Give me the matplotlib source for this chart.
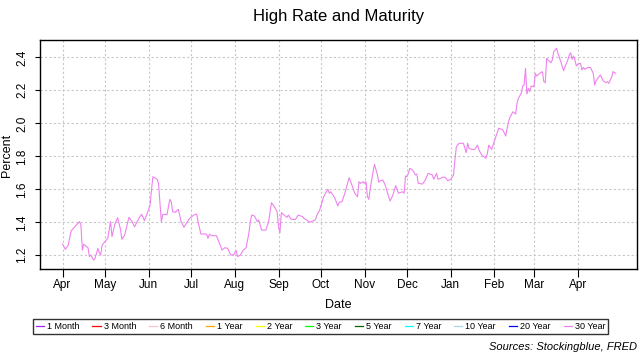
import numpy as np
import pandas as pd
import matplotlib
matplotlib.use("Agg")
import matplotlib.pyplot as plt
import matplotlib.dates as mdates
from matplotlib.lines import Line2D

plt.rcParams["font.family"] = ["Liberation Sans", "DejaVu Sans"]

start_date = "2017-04-01"
# days after start_date
days = [0, 2, 4, 6, 8, 12, 13, 14, 15, 18, 19, 20, 22, 23, 25, 26, 27, 28, 30, 32,
        34, 35, 37, 39, 41, 42, 44, 47, 49, 51, 54, 56, 58, 60, 62, 63, 64, 67, 68, 69,
        70, 71, 74, 76, 77, 78, 80, 82, 84, 86, 87, 90, 93, 95, 96, 98, 102, 103, 104, 106,
        109, 111, 113, 115, 117, 119, 121, 123, 124, 126, 128, 130, 132, 133, 134, 136, 138, 139, 141, 144,
        146, 148, 150, 152, 153, 154, 155, 159, 160, 162, 165, 167, 170, 171, 173, 175, 178, 179, 181, 182,
        185, 186, 188, 189, 190, 193, 195, 196, 198, 200, 203, 205, 207, 209, 210, 211, 213, 214, 215, 216,
        217, 218, 219, 220, 221, 223, 224, 225, 227, 229, 230, 232, 233, 234, 236, 238, 239, 241, 242, 243,
        244, 245, 246, 248, 250, 251, 252, 255, 257, 259, 262, 263, 265, 266, 268, 269, 271, 273, 275, 277,
        278, 279, 281, 284, 286, 287, 288, 290, 292, 294, 295, 297, 300, 301, 302, 303, 304, 305, 307, 309,
        311, 312, 314, 315, 316, 317, 319, 321, 322, 323, 325, 326, 327, 328, 329, 330, 331, 332, 334, 335,
        336, 338, 340, 341, 342, 343, 344, 346, 347, 348, 350, 351, 353, 355, 356, 358, 359, 360, 361, 362,
        363, 364, 365, 367, 368, 369, 370, 372, 374, 376, 377, 378, 381, 383, 385, 386, 387, 389, 390, 392]
rate_30y = [1.268, 1.236, 1.262, 1.347, 1.367, 1.404, 1.384, 1.232, 1.267, 1.246, 1.192, 1.202, 1.171, 1.182, 1.242, 1.216, 1.202, 1.262, 1.283, 1.303,
            1.404, 1.313, 1.388, 1.428, 1.358, 1.297, 1.323, 1.430, 1.408, 1.373, 1.424, 1.448, 1.410, 1.455, 1.505, 1.596, 1.676, 1.661, 1.636, 1.515,
            1.404, 1.448, 1.448, 1.539, 1.525, 1.464, 1.461, 1.479, 1.404, 1.370, 1.384, 1.424, 1.444, 1.450, 1.404, 1.329, 1.329, 1.303, 1.327, 1.319,
            1.319, 1.277, 1.232, 1.246, 1.242, 1.202, 1.202, 1.228, 1.192, 1.202, 1.232, 1.246, 1.333, 1.404, 1.444, 1.438, 1.404, 1.414, 1.353, 1.353,
            1.404, 1.519, 1.495, 1.464, 1.373, 1.337, 1.458, 1.430, 1.444, 1.418, 1.418, 1.444, 1.434, 1.424, 1.414, 1.400, 1.410, 1.414, 1.458, 1.470,
            1.555, 1.571, 1.600, 1.576, 1.585, 1.545, 1.499, 1.521, 1.525, 1.576, 1.670, 1.626, 1.576, 1.555, 1.646, 1.636, 1.646, 1.636, 1.646, 1.555,
            1.539, 1.606, 1.656, 1.707, 1.751, 1.691, 1.642, 1.652, 1.656, 1.616, 1.585, 1.529, 1.545, 1.565, 1.622, 1.576, 1.580, 1.585, 1.576, 1.681,
            1.676, 1.697, 1.727, 1.717, 1.687, 1.693, 1.636, 1.632, 1.656, 1.697, 1.687, 1.661, 1.697, 1.661, 1.667, 1.673, 1.673, 1.652, 1.661, 1.687,
            1.778, 1.858, 1.879, 1.879, 1.822, 1.879, 1.848, 1.842, 1.842, 1.868, 1.838, 1.808, 1.788, 1.818, 1.868, 1.855, 1.842, 1.868, 1.919, 1.970,
            1.964, 1.959, 1.923, 1.970, 2.010, 2.036, 2.070, 2.056, 2.121, 2.152, 2.182, 2.226, 2.232, 2.333, 2.178, 2.212, 2.192, 2.226, 2.222, 2.303,
            2.287, 2.303, 2.313, 2.252, 2.246, 2.394, 2.384, 2.367, 2.384, 2.434, 2.455, 2.424, 2.373, 2.319, 2.343, 2.384, 2.414, 2.428, 2.388, 2.408,
            2.384, 2.347, 2.359, 2.364, 2.323, 2.339, 2.327, 2.339, 2.339, 2.303, 2.232, 2.258, 2.293, 2.258, 2.246, 2.252, 2.242, 2.279, 2.313, 2.303]

maturities = ["1 Month", "3 Month", "6 Month", "1 Year", "2 Year", "3 Year",
              "5 Year", "7 Year", "10 Year", "20 Year", "30 Year"]
colors = ["#A020F0", "#FF0000", "#FFC0CB", "#FFA500", "#FFFF00", "#00FF00",
          "#006400", "#00FFFF", "#ADD8E6", "#0000FF", "#EE82EE"]

dates = pd.Timestamp(start_date) + pd.to_timedelta(days, unit="D")

fig = plt.figure(figsize=(6.4, 3.6), dpi=100)
ax = fig.add_axes([40 / 640, 1 - 269 / 360, 597 / 640, 229 / 360])

ax.plot(dates, rate_30y, color=colors[-1], lw=0.8)

ax.set_xlim(pd.Timestamp("2017-03-16"), pd.Timestamp("2018-05-13"))
ax.set_ylim(1.117, 2.505)
ax.set_yticks([1.2, 1.4, 1.6, 1.8, 2.0, 2.2, 2.4])
ax.yaxis.set_major_formatter(matplotlib.ticker.FormatStrFormatter("%.1f"))
ax.set_xticks(pd.date_range("2017-04-01", "2018-04-01", freq="MS"))
ax.xaxis.set_major_formatter(mdates.DateFormatter("%b"))

ax.grid(True, color="#C8C8C8", linestyle=(0, (2, 2)), lw=0.8)
ax.tick_params(axis="x", length=6, width=0.8, pad=1.5, labelsize=8.5)
ax.tick_params(axis="y", length=3.6, width=0.8, pad=5, labelsize=8.5, labelrotation=90)
for lab in ax.get_yticklabels():
    lab.set_va("center")
for s in ax.spines.values():
    s.set_linewidth(1.0)

fig.text(338.5 / 640, 1 - 17 / 360, "High Rate and Maturity", ha="center", va="center", fontsize=12)
fig.text(338.5 / 640, 1 - 305 / 360, "Date", ha="center", va="center", fontsize=9)
fig.text(7 / 640, 1 - 155 / 360, "Percent", ha="center", va="center", rotation=90, fontsize=9)
fig.text(637 / 640, 1 - 347 / 360, "Sources: Stockingblue, FRED", ha="right", va="center",
         fontsize=8, style="italic")

handles = [Line2D([], [], color=c, lw=0.9) for c in colors]
leg = fig.legend(handles, maturities, ncol=11, loc="center", mode="expand",
                 bbox_to_anchor=(33 / 640, 1 - 334 / 360, 575 / 640, 15 / 360),
                 fontsize=6.5, handlelength=0.9, handletextpad=0.35, columnspacing=1.0,
                 borderpad=0.3, borderaxespad=0, fancybox=False, frameon=True)
leg.get_frame().set_edgecolor("black")
leg.get_frame().set_linewidth(1.0)

fig.savefig("out.png", dpi=100)
